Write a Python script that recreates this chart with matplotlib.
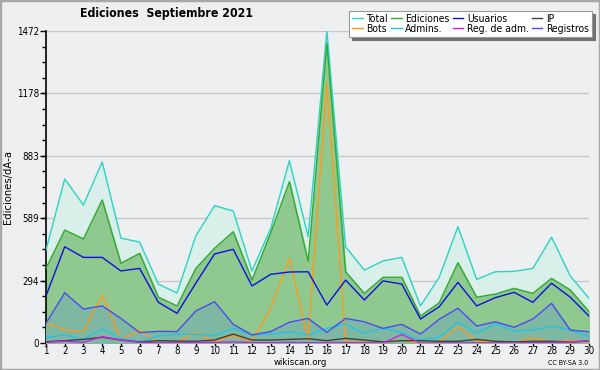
import matplotlib
matplotlib.use("Agg")
import matplotlib.pyplot as plt
from matplotlib import font_manager
from matplotlib.patches import Rectangle
from matplotlib.ticker import MultipleLocator, FixedLocator

days = list(range(1, 31))
total = [439, 774, 651, 854, 495, 476, 278, 236, 505, 648, 623, 340, 540, 860, 502,
         1472, 454, 344, 387, 404, 175, 310, 549, 300, 336, 338, 352, 499, 316, 211]
ediciones = [352, 533, 491, 675, 376, 423, 216, 175, 352, 447, 525, 297, 520, 761, 384,
             1414, 336, 234, 310, 310, 127, 190, 379, 216, 231, 258, 234, 305, 250, 148]
usuarios = [222, 454, 404, 404, 340, 352, 192, 140, 282, 420, 442, 269, 324, 335, 336,
            179, 297, 203, 293, 278, 113, 171, 286, 175, 214, 239, 192, 282, 216, 127]
ip = [6, 11, 17, 27, 14, 5, 11, 9, 8, 14, 42, 14, 14, 17, 20,
      11, 22, 14, 5, 11, 11, 8, 8, 17, 8, 5, 8, 8, 5, 9]
bots = [96, 61, 57, 226, 14, 61, 0, 3, 50, 6, 35, 9, 164, 400, 14,
        1225, 6, 4, 4, 11, 1, 5, 77, 9, 5, 1, 25, 5, 12, 4]
admins = [25, 38, 17, 66, 22, 6, 33, 42, 41, 35, 69, 38, 42, 53, 38,
          69, 90, 46, 69, 49, 14, 27, 98, 49, 90, 57, 61, 80, 61, 30]
reg_adm = [3, 8, 3, 30, 14, 3, 2, 2, 3, 3, 5, 2, 2, 3, 2,
           2, 2, 2, 0, 40, 0, 1, 1, 1, 1, 1, 2, 2, 5, 10]
registros = [93, 237, 160, 175, 116, 49, 55, 54, 151, 195, 88, 38, 54, 98, 116,
             50, 116, 100, 69, 88, 42, 112, 164, 80, 100, 74, 113, 187, 61, 53]

ymax = 1472
yticks = [0, 294, 589, 883, 1178, 1472]

# Prefer a condensed sans face if one is installed
fl = font_manager.fontManager.ttflist
has_dv_cond = any(f.name == "DejaVu Sans" and f.stretch == "condensed" for f in fl)
names = {f.name for f in fl}
if has_dv_cond:
    plt.rcParams["font.family"] = ["DejaVu Sans"]
    plt.rcParams["font.stretch"] = "condensed"
    scale = 1.0
elif "Liberation Sans Narrow" in names:
    plt.rcParams["font.family"] = ["Liberation Sans Narrow", "DejaVu Sans"]
    scale = 1.0
else:
    scale = 0.9

bg = "#eeeff1"
fig = plt.figure(figsize=(6, 3.7), dpi=100, facecolor=bg)
fig.patches.append(Rectangle((0, 0), 1, 1, transform=fig.transFigure,
                             fill=False, edgecolor="#a8a8a8", linewidth=2.5, zorder=10))
ax = fig.add_axes([46/600, 1-343/370, 543/600, 312/370])
ax.set_facecolor(bg)

ax.fill_between(days, 0, total, color="#d9f0ea", zorder=1)
ax.fill_between(days, 0, ediciones, color="#8fc98f", zorder=2)
ax.fill_between(days, 0, registros, color="#7fb8a2", zorder=3)

lw = 1.0
ax.plot(days, total, color="#2dd3c3", lw=lw, zorder=5, label="Total")
ax.plot(days, bots, color="#ff9a1a", lw=lw, zorder=6, label="Bots")
ax.plot(days, ediciones, color="#33aa33", lw=lw, zorder=5, label="Ediciones")
ax.plot(days, admins, color="#22c4e4", lw=lw, zorder=6, label="Admins.")
ax.plot(days, usuarios, color="#1010dd", lw=lw, zorder=6, label="Usuarios")
ax.plot(days, reg_adm, color="#cc22dd", lw=lw, zorder=7, label="Reg. de adm.")
ax.plot(days, ip, color="#404040", lw=lw, zorder=6, label="IP")
ax.plot(days, registros, color="#4c4cf0", lw=lw, zorder=6, label="Registros")

ax.set_xlim(1, 30)
ax.set_ylim(0, ymax)
ax.set_xticks(days)
ax.set_xticklabels([str(d) for d in days])
ax.yaxis.set_major_locator(FixedLocator(yticks))
ax.yaxis.set_minor_locator(MultipleLocator(ymax/20))
ax.set_yticklabels([str(t) for t in yticks])
ax.grid(axis="y", color="#c8c8c8", lw=1, zorder=0)
ax.set_axisbelow(True)
for s in ["top", "right"]:
    ax.spines[s].set_visible(False)
ax.spines["left"].set_linewidth(1.2)
ax.spines["bottom"].set_linewidth(1.2)
ax.tick_params(axis="x", which="major", labelsize=7*scale, length=2.5, width=1, pad=0)
ax.tick_params(axis="y", which="major", labelsize=7*scale, length=4, width=1, pad=1)
ax.tick_params(axis="y", which="minor", length=3, width=1)
ax.set_ylabel("Ediciones/dÃ\u00ada", fontsize=8*scale, labelpad=3)

fig.text(167/600, 1-14/370, "Ediciones  Septiembre 2021", fontsize=8.8*scale, fontweight="bold",
         ha="center", va="center")

handles, labels = ax.get_legend_handles_labels()
leg = fig.legend(handles, labels, ncol=4, loc="upper right",
                 bbox_to_anchor=(592/600, 1-11/370), fontsize=7.5*scale, frameon=True,
                 fancybox=False, shadow={"color": "#707070", "alpha": 1},
                 handlelength=1.0, handletextpad=0.35, columnspacing=0.3,
                 labelspacing=0.0, borderpad=0.3, borderaxespad=0)
leg.get_frame().set_edgecolor("#999999")
leg.get_frame().set_linewidth(0.8)

fig.text(0.5, 1-362.5/370, "wikiscan.org", fontsize=6.8*scale, ha="center", va="center")
fig.text(588/600, 1-363/370, "CC BY-SA 3.0", fontsize=5*scale, ha="right", va="center")

fig.savefig("out.png", dpi=100, facecolor=bg)
